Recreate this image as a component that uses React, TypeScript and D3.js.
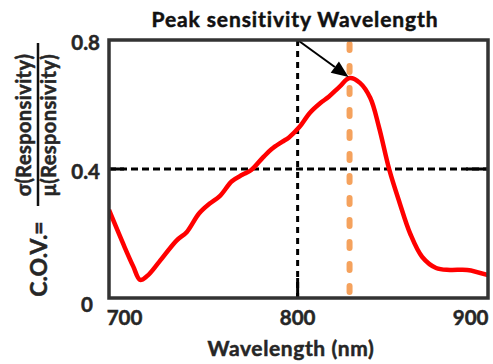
import React from "react";
import * as d3 from "d3";

// Wavelength (nm) and coefficient of variation of responsivity
const wavelengths = [691, 700, 705, 709, 713, 720, 730, 736, 743, 749, 755, 762, 768, 773, 780, 785, 791, 795, 801, 807, 813, 818, 824, 830, 836, 842, 847, 853, 859, 865, 872, 880, 888, 898, 910];
const covValues = [0.273, 0.158, 0.098, 0.056, 0.068, 0.112, 0.178, 0.205, 0.262, 0.292, 0.316, 0.362, 0.382, 0.396, 0.436, 0.462, 0.484, 0.498, 0.53, 0.574, 0.604, 0.624, 0.654, 0.682, 0.667, 0.62, 0.53, 0.397, 0.294, 0.2, 0.127, 0.093, 0.087, 0.087, 0.071];

const xTicks = [700, 800, 900];
const yTicks = [0, 0.4, 0.8];
const xDomain = [691, 910];
const yDomain = [0, 0.8];

const peakWavelength = 830;
const peakValue = 0.682;
const refWavelength = 800;
const refValue = 0.4;

const W = 493;
const H = 364;
const M = { left: 109, right: 488, top: 40, bottom: 298 };
const FONT = "Lato, 'Open Sans', sans-serif";

export default function App() {
  const x = d3.scaleLinear().domain(xDomain).range([M.left, M.right]);
  const y = d3.scaleLinear().domain(yDomain).range([M.bottom, M.top]);

  const points: [number, number][] = wavelengths.map((w, i) => [w, covValues[i]]);
  const line = d3
    .line<[number, number]>()
    .x((d) => x(d[0]))
    .y((d) => y(d[1]))
    .curve(d3.curveCatmullRom.alpha(0.5));

  // arrow from the top of the 800 nm line to the peak
  const ax0 = x(refWavelength);
  const ay0 = y(yDomain[1]);
  const ax1 = x(peakWavelength) - 1;
  const ay1 = y(peakValue) - 1;
  const ang = Math.atan2(ay1 - ay0, ax1 - ax0);
  const headLen = 17;
  const headHalf = 7;
  const bx = ax1 - headLen * Math.cos(ang);
  const by = ay1 - headLen * Math.sin(ang);
  const head = [
    [ax1, ay1],
    [bx + headHalf * Math.sin(ang), by - headHalf * Math.cos(ang)],
    [bx - headHalf * Math.sin(ang), by + headHalf * Math.cos(ang)],
  ]
    .map((p) => p.join(","))
    .join(" ");

  const hy = y(refValue);
  const vx = x(refWavelength);
  const ox = x(peakWavelength);

  const textStyle = { fill: "#262626", stroke: "#262626", strokeWidth: 0.5 };

  return (
    <svg width={W} height={H} style={{ display: "block", position: "absolute", left: 0, top: 0 }} fontFamily={FONT} fontWeight="bold">
      <defs>
        <clipPath id="plot-clip">
          <rect x={M.left} y={M.top} width={M.right - M.left} height={M.bottom - M.top} />
        </clipPath>
      </defs>
      <rect x={0} y={0} width={W} height={H} fill="#fff" />

      {/* reference lines */}
      <line x1={M.left} x2={M.right} y1={hy} y2={hy} stroke="#000" strokeWidth={3} strokeDasharray="7 4" />
      <line x1={M.left} x2={M.left + 15} y1={hy} y2={hy} stroke="#000" strokeWidth={3} />
      <line x1={M.right - 22} x2={M.right} y1={hy} y2={hy} stroke="#000" strokeWidth={3} />
      <line x1={vx} x2={vx} y1={M.top} y2={M.bottom} stroke="#000" strokeWidth={3} strokeDasharray="6 5" />
      <line x1={vx} x2={vx} y1={M.bottom - 20} y2={M.bottom} stroke="#000" strokeWidth={3} />

      {/* peak wavelength marker */}
      <line x1={ox} x2={ox} y1={M.top + 4} y2={M.bottom - 4} stroke="#F5A25D" strokeWidth={6} strokeLinecap="round" strokeDasharray="6 16" />

      {/* C.O.V. curve */}
      <path d={line(points) ?? ""} fill="none" stroke="#FF0000" strokeWidth={4.5} strokeLinejoin="round" clipPath="url(#plot-clip)" />

      {/* arrow */}
      <line x1={ax0} y1={ay0} x2={bx} y2={by} stroke="#000" strokeWidth={2} />
      <polygon points={head} fill="#000" />

      {/* frame */}
      <rect x={M.left} y={M.top} width={M.right - M.left} height={M.bottom - M.top} fill="none" stroke="#333" strokeWidth={3.5} />

      {/* x tick labels */}
      {xTicks.map((t) => (
        <text key={t} x={x(t)} y={325} textAnchor="middle" fontSize={20.5} {...textStyle}>
          {t}
        </text>
      ))}
      {/* y tick labels */}
      {yTicks.map((t) => (
        <text key={t} x={t === 0 ? 93 : 100} y={y(t) + (t === 0 ? 14 : 10)} textAnchor="end" fontSize={20.5} {...textStyle}>
          {t === 0 ? "0" : t.toFixed(1)}
        </text>
      ))}

      {/* title */}
      <text x={295} y={27} textAnchor="middle" fontSize={21} letterSpacing={0.9} {...textStyle} fill="#111" stroke="#111">
        Peak sensitivity Wavelength
      </text>

      {/* x axis title */}
      <text x={291} y={356} textAnchor="middle" fontSize={21} letterSpacing={0.6} {...textStyle}>
        Wavelength (nm)
      </text>

      {/* y axis title: C.O.V. = σ / μ */}
      <text transform="translate(47,259) rotate(-90)" textAnchor="middle" fontSize={23} {...textStyle}>
        C.O.V.=
      </text>
      <text transform="translate(31,125) rotate(-90)" textAnchor="middle" fontSize={20} letterSpacing={0.4} {...textStyle}>
        σ(Responsivity)
      </text>
      <line x1={38} x2={38} y1={43} y2={206} stroke="#111" strokeWidth={2.5} />
      <text transform="translate(56,125) rotate(-90)" textAnchor="middle" fontSize={20} letterSpacing={0.4} {...textStyle}>
        μ(Responsivity)
      </text>
    </svg>
  );
}
